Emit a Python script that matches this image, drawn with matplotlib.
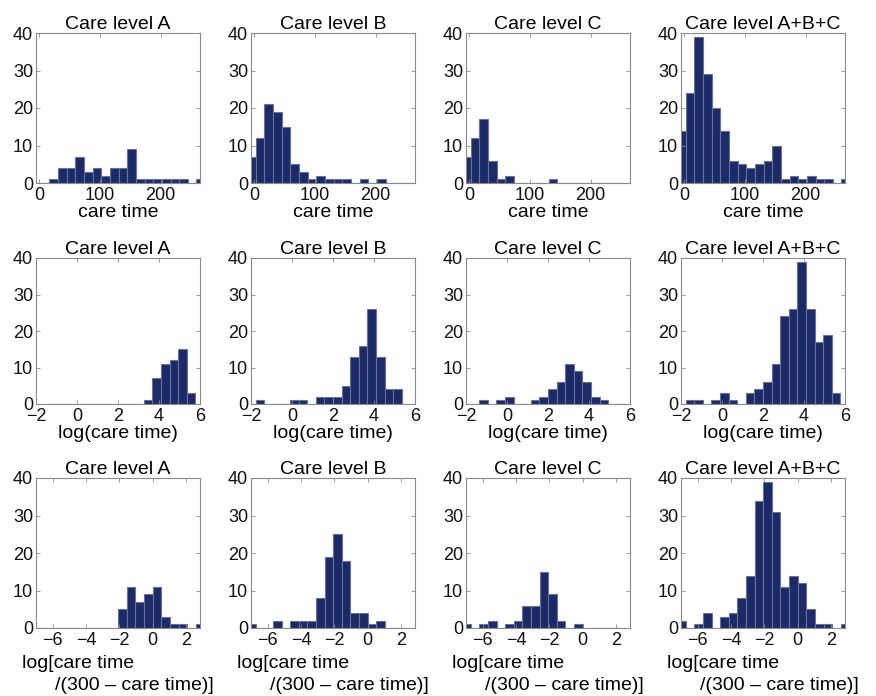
import numpy as np
import matplotlib
matplotlib.use('Agg')
import matplotlib.pyplot as plt

plt.rcParams.update({
    "font.family": ["Liberation Sans", "DejaVu Sans"],
    "font.size": 13,
    "xtick.labelsize": 13,
    "ytick.labelsize": 13,
})

# histogram counts (one list per panel)
titles = ['Care level A', 'Care level B', 'Care level C', 'Care level A+B+C']

# row 1: care time, 20 bins
raw_A = [0, 0, 1, 4, 4, 7, 3, 4, 2, 4, 4, 9, 1, 1, 1, 1, 1, 1, 0, 1]
raw_B = [7, 12, 21, 19, 15, 5, 3, 1, 2, 1, 1, 1, 0, 1, 0, 1, 0, 0, 0, 0]
raw_C = [7, 12, 17, 6, 1, 2, 0, 0, 0, 0, 1, 0, 0, 0, 0, 0, 0, 0, 0, 0]
raw_lo, raw_hi = -11.55, 273.45

# row 2: log(care time), 18 bins
log_A = [0, 0, 0, 0, 0, 0, 0, 0, 0, 0, 0, 0, 1, 7, 11, 12, 15, 3]
log_B = [1, 0, 0, 0, 1, 1, 0, 2, 2, 2, 5, 13, 16, 26, 13, 4, 4, 0]
log_C = [0, 1, 0, 1, 2, 0, 0, 1, 2, 4, 6, 11, 9, 6, 2, 1, 0, 0]
log_lo, log_hi = -1.77, 5.77

# row 3: log[care time / (300 - care time)], 20 bins
lgt_A = [0, 0, 0, 0, 0, 0, 0, 0, 0, 0, 5, 11, 7, 9, 11, 3, 1, 1, 0, 1]
lgt_B = [1, 0, 0, 2, 0, 2, 2, 2, 8, 19, 25, 18, 4, 4, 1, 2, 0, 0, 0, 0]
lgt_C = [1, 0, 1, 2, 0, 1, 2, 6, 6, 15, 9, 2, 0, 1, 0, 0, 0, 0, 0, 0]
lgt_lo, lgt_hi = -7.24, 3.12

rows = [
    ([raw_A, raw_B, raw_C], raw_lo, raw_hi, (-5, 265), [0, 100, 200]),
    ([log_A, log_B, log_C], log_lo, log_hi, (-2, 6), [-2, 0, 2, 4, 6]),
    ([lgt_A, lgt_B, lgt_C], lgt_lo, lgt_hi, (-7, 2.85), [-6, -4, -2, 0, 2]),
]

W, H = 876, 696
col_left = [36, 251, 466, 681]
ax_w = 164
row_box = [(33, 183), (258, 404), (478, 628)]   # top, bottom in pixels

face = '#1b2a68'
edge = '#6a7290'
spine = '#8a8a8a'

fig = plt.figure(figsize=(W / 100, H / 100), dpi=100)

for r, (series, lo, hi, xlim, xticks) in enumerate(rows):
    top, bot = row_box[r]
    counts = [np.array(s) for s in series]
    counts.append(counts[0] + counts[1] + counts[2])
    edges = np.linspace(lo, hi, len(counts[0]) + 1)
    width = edges[1] - edges[0]
    for c in range(4):
        ax = fig.add_axes([col_left[c] / W, 1 - bot / H, ax_w / W, (bot - top) / H])
        ax.bar(edges[:-1], counts[c], width=width, align='edge',
               color=face, edgecolor=edge, linewidth=0.8)
        ax.set_xlim(*xlim)
        ax.set_ylim(0, 40)
        ax.set_xticks(xticks)
        ax.set_yticks([0, 10, 20, 30, 40])
        ax.tick_params(which='both', direction='in', length=3, width=0.6,
                       color=spine, top=True, right=True, labelcolor='#111')
        ax.tick_params(axis='y', pad=2)
        ax.tick_params(axis='x', pad=3)
        for s in ax.spines.values():
            s.set_color(spine)
            s.set_linewidth(0.8)
        ax.set_title(titles[c], fontsize=14, pad=3)
        if r == 0:
            ax.set_xlabel('care time', fontsize=14, labelpad=0)
        elif r == 1:
            ax.set_xlabel('log(care time)', fontsize=14, labelpad=0)
        else:
            ax.text(-0.085, -0.24, 'log[care time', transform=ax.transAxes,
                    fontsize=14, ha='left', va='center')
            ax.text(0.116, -0.385, '/(300 \u2013 care time)]', transform=ax.transAxes,
                    fontsize=14, ha='left', va='center')

fig.savefig('out.png', dpi=100)
